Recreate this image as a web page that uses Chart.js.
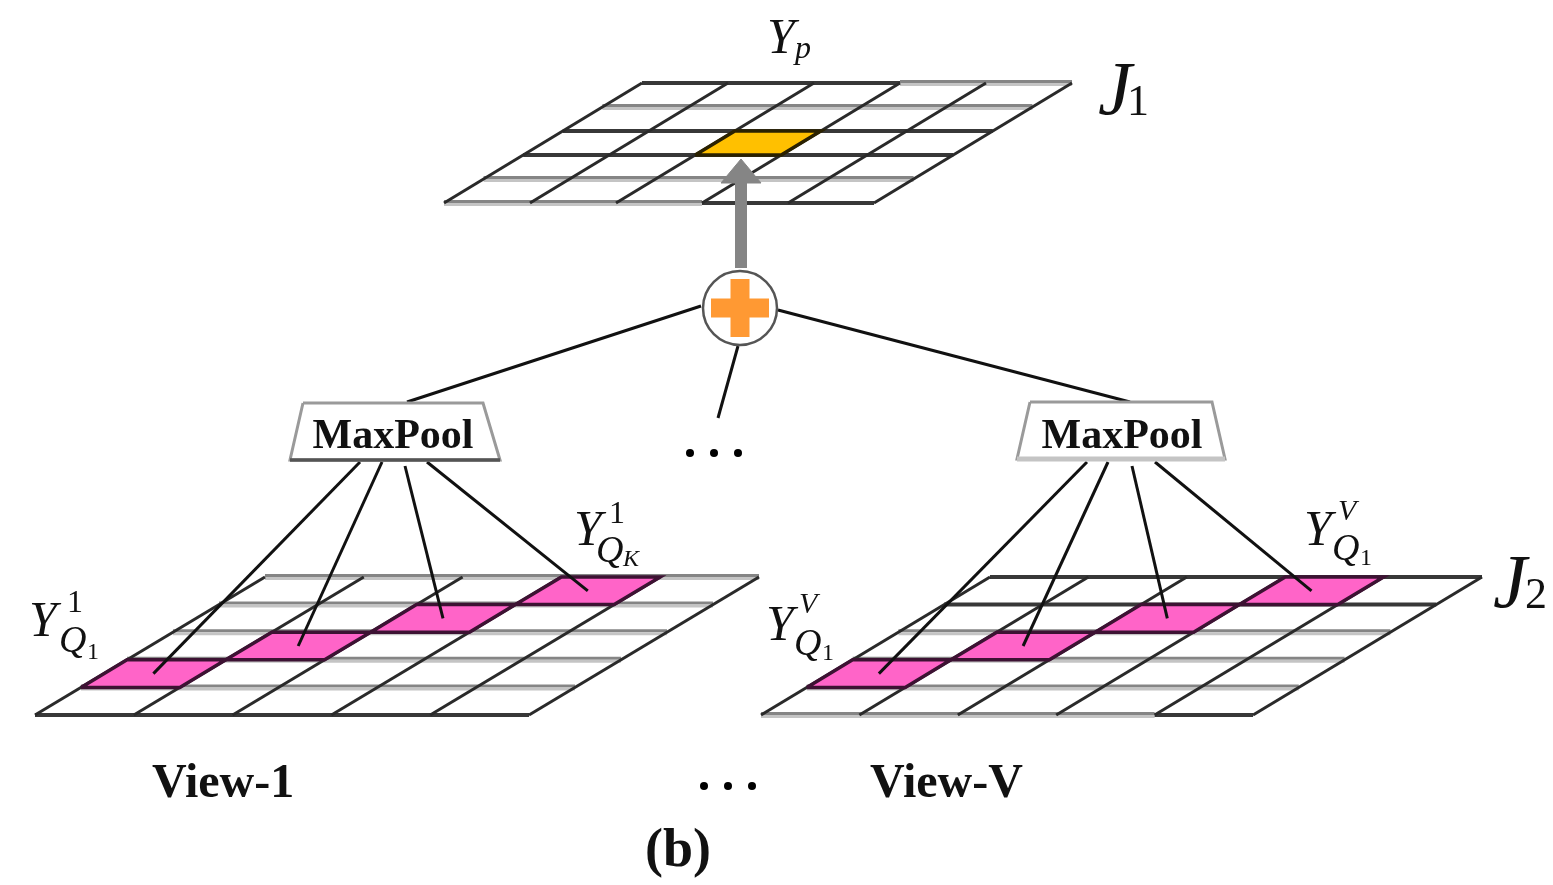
<!DOCTYPE html>
<html>
<head>
<meta charset="utf-8">
<title>Multi-view max pooling (b)</title>
<script src="https://cdn.jsdelivr.net/npm/chart.js@4.4.1/dist/chart.umd.min.js"></script>
<style>
  html, body { margin: 0; padding: 0; background: #fff; }
  #wrap { width: 1553px; height: 885px; }
</style>
</head>
<body>
<div id="wrap"><canvas id="diagram"></canvas></div>
<script>
// --- diagram data (in the 1553 x 885 frame of the figure) ---

// three skewed grids: J1 on top, View-1 and View-V at the bottom
const gridBottomLeft = [[444, 203], [35, 715], [761, 715]];
const gridWidths = [430, 494, 492];
const gridHeights = [120, 138, 138];
const gridShifts = [198, 230, 229];
const gridCols = [5, 5, 5];
const gridRows = [5, 5, 5];

// highlighted cells, [col, row counted from the bottom]
const pooledCells = [[2, 2]];
const viewCells = [[0, 1], [1, 2], [2, 3], [3, 4]];

// sum node, maxpool boxes and links
const sumNode = [740, 308];
const maxPoolBoxes = [
  [[303, 403], [483, 403], [500, 460], [290, 460]],
  [[1030, 402], [1212, 402], [1225, 459], [1017, 459]]
];
const poolFanStarts = [
  [[360, 462], [382, 462], [405, 466], [427, 462]],
  [[1087, 462], [1108, 462], [1132, 466], [1155, 462]]
];
const sumLinks = [
  [[701, 306], [407, 402]],
  [[778, 310], [1130, 402]],
  [[738, 346], [718, 418]]
];
const arrowShaft = [[741, 268], [741, 181]];
const arrowHead = [[721, 183], [761, 183], [741, 159]];
const ellipsisDots = [[690, 453], [714, 453], [738, 453], [704, 786], [728, 786], [752, 786]];

// texts
const boxLabels = ["MaxPool", "MaxPool"];
const viewLabels = ["View-1", "View-V"];
const figureTag = "(b)";

// --- styles ---
const hLineStyles = [
  ["gggdd", "ggggg", "ddddd", "ddddd", "ggggg", "dddgg"],
  ["ddddd", "ggggg", "ggggg", "ggggg", "ggggg", "ggggg"],
  ["ggggd", "ggggg", "ggggg", "ggggg", "ddddd", "ddddd"]
];
const SERIF = '"Liberation Serif", "DejaVu Serif", serif';

const datasets = [];

function addPath(points, opts) {
  datasets.push(Object.assign({
    data: points.map(p => ({ x: p[0], y: p[1] })),
    borderColor: "#000",
    borderWidth: 2.5,
    pointRadius: 0,
    fill: false,
    tension: 0
  }, opts));
}

function gridPoint(g, c, r) {
  const [x0, y0] = gridBottomLeft[g];
  const cw = gridWidths[g] / gridCols[g];
  const rh = gridHeights[g] / gridRows[g];
  const sh = gridShifts[g] / gridRows[g];
  return [x0 + c * cw + r * sh, y0 - r * rh];
}

function cellPolygon(g, c, r) {
  return [gridPoint(g, c, r), gridPoint(g, c + 1, r), gridPoint(g, c + 1, r + 1), gridPoint(g, c, r + 1), gridPoint(g, c, r)];
}

function cellCenter(g, c, r) {
  const a = gridPoint(g, c, r), b = gridPoint(g, c + 1, r + 1);
  return [(a[0] + b[0]) / 2, (a[1] + b[1]) / 2];
}

function addGrid(g) {
  // horizontal lines, merged into runs of the same style
  for (let r = 0; r <= gridRows[g]; r++) {
    const style = hLineStyles[g][r];
    let start = 0;
    for (let c = 1; c <= gridCols[g]; c++) {
      if (c === gridCols[g] || style[c] !== style[start]) {
        const a = gridPoint(g, start, r), b = gridPoint(g, c, r);
        if (style[start] === "d") {
          addPath([a, b], { borderColor: "#383838", borderWidth: 4 });
        } else {
          addPath([[a[0], a[1] - 1.5], [b[0], b[1] - 1.5]], { borderColor: "#858585", borderWidth: 3 });
          addPath([[a[0], a[1] + 1.5], [b[0], b[1] + 1.5]], { borderColor: "#c4c4c4", borderWidth: 3 });
        }
        start = c;
      }
    }
  }
  // skewed column lines
  for (let c = 0; c <= gridCols[g]; c++) {
    addPath([gridPoint(g, c, 0), gridPoint(g, c, gridRows[g])], { borderColor: "#2a2a2a", borderWidth: 3 });
  }
}

[0, 1, 2].forEach(addGrid);

pooledCells.forEach(([c, r]) => {
  addPath(cellPolygon(0, c, r), { fill: "shape", backgroundColor: "#ffc000", borderColor: "#2a2100", borderWidth: 3.5 });
});
[1, 2].forEach(g => {
  viewCells.forEach(([c, r]) => {
    addPath(cellPolygon(g, c, r), { fill: "shape", backgroundColor: "#ff64c8", borderColor: "#3d1233", borderWidth: 3.5 });
  });
});

// fan lines from each maxpool box to the highlighted cells of its view
poolFanStarts.forEach((starts, i) => {
  starts.forEach((s, k) => {
    addPath([s, cellCenter(i + 1, viewCells[k][0], viewCells[k][1])], { borderColor: "#111", borderWidth: 3 });
  });
});

// links into the sum node
sumLinks.forEach(l => addPath(l, { borderColor: "#111", borderWidth: 3 }));

// maxpool boxes
maxPoolBoxes.forEach((b, i) => {
  addPath(b.concat([b[0]]), { fill: "shape", backgroundColor: "#fff", borderColor: "#9a9a9a", borderWidth: 3 });
  addPath([b[3], b[2]], { borderColor: i === 0 ? "#555" : "#c4c4c4", borderWidth: i === 0 ? 3.5 : 5 });
});

// gray arrow from the sum node up to the pooled cell
addPath(arrowShaft, { borderColor: "#858585", borderWidth: 12 });
addPath(arrowHead.concat([arrowHead[0]]), { fill: "shape", backgroundColor: "#858585", borderColor: "#858585", borderWidth: 1 });

// sum node: circle with orange plus
datasets.push({
  data: [{ x: sumNode[0], y: sumNode[1] }],
  showLine: false, pointStyle: "circle", pointRadius: 37,
  pointBorderWidth: 2.5, pointBorderColor: "#555", pointBackgroundColor: "#fff"
});
datasets.push({
  data: [{ x: sumNode[0], y: sumNode[1] }],
  showLine: false, pointStyle: "cross", pointRadius: 29,
  pointBorderWidth: 19, pointBorderColor: "#ff9933", pointBackgroundColor: "#ff9933"
});

// ellipsis dots
datasets.push({
  data: ellipsisDots.map(p => ({ x: p[0], y: p[1] })),
  showLine: false, pointStyle: "circle", pointRadius: 4,
  pointBorderWidth: 0, pointBackgroundColor: "#000"
});

// later datasets paint on top
datasets.forEach((d, i) => { d.order = datasets.length - i; });

// text runs: [text, x, y, font, align]
const textRuns = [
  ["Y", 767, 53, "italic 50px", "left"], ["p", 795, 58, "italic 32px", "left"],
  ["J", 1098, 114, "italic 76px", "left"], ["1", 1127, 115, "44px", "left"],
  ["J", 1493, 607, "italic 76px", "left"], ["2", 1525, 608, "44px", "left"],
  ["Y", 29, 636, "italic 50px", "left"], ["1", 67, 612, "32px", "left"],
  ["Q", 59, 652, "italic 38px", "left"], ["1", 87, 659, "24px", "left"],
  ["Y", 574, 545, "italic 50px", "left"], ["1", 609, 523, "32px", "left"],
  ["Q", 596, 562, "italic 38px", "left"], ["K", 623, 566, "italic 24px", "left"],
  ["Y", 766, 640, "italic 50px", "left"], ["V", 799, 613, "italic 30px", "left"],
  ["Q", 794, 655, "italic 38px", "left"], ["1", 822, 660, "24px", "left"],
  ["Y", 1304, 545, "italic 50px", "left"], ["V", 1338, 520, "italic 30px", "left"],
  ["Q", 1332, 560, "italic 38px", "left"], ["1", 1360, 565, "24px", "left"],
  [boxLabels[0], 393, 448, "bold 42px", "center"],
  [boxLabels[1], 1122, 448, "bold 42px", "center"],
  [viewLabels[0], 152, 797, "bold 48px", "left"],
  [viewLabels[1], 870, 797, "bold 48px", "left"],
  [figureTag, 678, 866, "bold 54px", "center"]
];

const textPlugin = {
  id: "diagramText",
  afterDatasetsDraw(chart) {
    const ctx = chart.ctx, xs = chart.scales.x, ys = chart.scales.y;
    ctx.save();
    ctx.fillStyle = "#111";
    ctx.textBaseline = "alphabetic";
    textRuns.forEach(([t, x, y, f, align]) => {
      ctx.font = f + " " + SERIF;
      ctx.textAlign = align;
      ctx.fillText(t, xs.getPixelForValue(x), ys.getPixelForValue(y));
    });
    ctx.restore();
  }
};

new Chart(document.getElementById("diagram"), {
  type: "line",
  data: { datasets: datasets },
  options: {
    responsive: true,
    maintainAspectRatio: false,
    animation: false,
    events: [],
    layout: { padding: 0, autoPadding: false },
    scales: {
      x: { type: "linear", min: 0, max: 1553, display: false },
      y: { type: "linear", min: 0, max: 885, reverse: true, display: false }
    },
    plugins: {
      legend: { display: false },
      tooltip: { enabled: false }
    }
  },
  plugins: [textPlugin]
});
</script>
</body>
</html>
